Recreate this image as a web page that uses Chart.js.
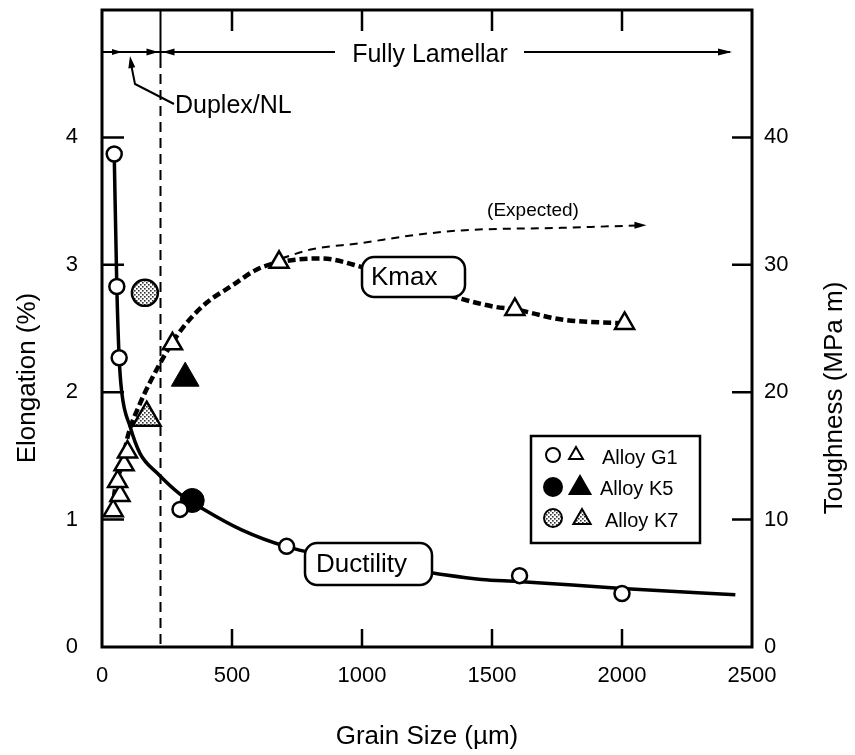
<!DOCTYPE html>
<html>
<head>
<meta charset="utf-8">
<script src="https://cdn.jsdelivr.net/npm/chart.js@4.4.1/dist/chart.umd.min.js"></script>
<style>
  html, body { margin: 0; padding: 0; background: #fff; }
  #wrap { width: 855px; height: 755px; }
</style>
</head>
<body>
<div id="wrap"><canvas id="c" width="855" height="755"></canvas></div>
<script>
const FONT = "'Liberation Sans', Arial, Helvetica, sans-serif";

// Tick labels
const xTickLabels = ['0', '500', '1000', '1500', '2000', '2500'];
const elongTickLabels = ['0', '1', '2', '3', '4'];
const toughTickLabels = ['0', '10', '20', '30', '40'];

// Ductility trend line (elongation, %)
const ductCurveX = [47, 57, 66, 76, 108, 146, 215, 300, 384, 537, 707, 1000, 1270, 1460, 1600, 2000, 2436];
const ductCurveY = [3.87, 2.83, 2.27, 2.0, 1.73, 1.52, 1.36, 1.20, 1.09, 0.92, 0.79, 0.66, 0.58, 0.53, 0.515, 0.46, 0.41];

// Kmax trend line (toughness, MPa m)
const kmaxCurveX = [42, 48, 75, 100, 146, 216, 271, 324, 401, 503, 592, 681, 842, 1003, 1369, 1511, 1588, 1768, 2010];
const kmaxCurveY = [10.8, 12.1, 14.2, 16.6, 19.1, 22.0, 23.9, 25.4, 27.0, 28.4, 29.6, 30.2, 30.5, 29.8, 27.4, 26.7, 26.5, 25.7, 25.4];

// Expected toughness trend
const expCurveX = [690, 803, 996, 1189, 1382, 1768, 2071];
const expCurveY = [30.5, 31.2, 31.7, 32.3, 32.7, 32.9, 33.1];

// Alloy G1
const g1CircGrain = [47, 57, 66, 300, 710, 1606, 2000];
const g1Elong = [3.87, 2.83, 2.27, 1.08, 0.79, 0.56, 0.42];
const g1TriGrain = [43, 69, 60, 85, 98, 271, 681, 1588, 2010];
const g1Tough = [10.7, 11.9, 13.0, 14.3, 15.3, 23.8, 30.2, 26.5, 25.4];

// Alloy K5
const k5CircGrain = [347];
const k5Elong = [1.15];
const k5TriGrain = [320];
const k5Tough = [21.1];

// Alloy K7
const k7CircGrain = [165];
const k7Elong = [2.78];
const k7TriGrain = [172];
const k7Tough = [18.0];

// Duplex / fully lamellar boundary (grain size, µm)
const duplexLimit = 225;

const pts = (xs, ys) => xs.map((v, i) => ({ x: v, y: ys[i] }));

const canvas = document.getElementById('c');
const ctx0 = canvas.getContext('2d');

// dotted grey fill used for alloy K7 symbols
function makeStipple(ctx) {
  const c = document.createElement('canvas');
  c.width = 4; c.height = 4;
  const g = c.getContext('2d');
  g.fillStyle = '#fff'; g.fillRect(0, 0, 4, 4);
  g.fillStyle = '#333';
  g.fillRect(0, 0, 1.6, 1.6);
  g.fillRect(2, 2, 1.6, 1.6);
  return ctx.createPattern(c, 'repeat');
}
const stipple = makeStipple(ctx0);

function circle(ctx, x, y, r) {
  ctx.beginPath(); ctx.arc(x, y, r, 0, Math.PI * 2); ctx.closePath();
}
function triangle(ctx, x, y, r) {
  ctx.beginPath();
  for (let k = 0; k < 3; k++) {
    const a = k * 2 * Math.PI / 3;
    const px = x + Math.sin(a) * r, py = y - Math.cos(a) * r;
    if (k === 0) ctx.moveTo(px, py); else ctx.lineTo(px, py);
  }
  ctx.closePath();
}
function roundBox(ctx, x0, y0, x1, y1, r) {
  ctx.beginPath();
  ctx.moveTo(x0 + r, y0);
  ctx.arcTo(x1, y0, x1, y1, r);
  ctx.arcTo(x1, y1, x0, y1, r);
  ctx.arcTo(x0, y1, x0, y0, r);
  ctx.arcTo(x0, y0, x1, y0, r);
  ctx.closePath();
}
function arrowHead(ctx, x, y, dir, len, half) {
  // dir: angle in radians the tip points to
  ctx.save();
  ctx.translate(x, y); ctx.rotate(dir);
  ctx.beginPath();
  ctx.moveTo(0, 0); ctx.lineTo(-len, -half); ctx.lineTo(-len, half);
  ctx.closePath(); ctx.fill();
  ctx.restore();
}

const deco = {
  id: 'deco',
  beforeDatasetsDraw(chart) {
    const { ctx, chartArea: a, scales: { x } } = chart;
    const bx = x.getPixelForValue(duplexLimit);
    ctx.save();
    ctx.strokeStyle = '#000';
    ctx.fillStyle = '#000';
    ctx.lineWidth = 2;
    ctx.beginPath(); ctx.moveTo(bx, a.top); ctx.lineTo(bx, 58); ctx.stroke();
    ctx.setLineDash([10, 6]);
    ctx.beginPath(); ctx.moveTo(bx, 58); ctx.lineTo(bx, a.bottom); ctx.stroke();
    ctx.setLineDash([]);

    // range arrows along the top
    const ay = 52;
    ctx.lineWidth = 2;
    ctx.beginPath(); ctx.moveTo(a.left, ay); ctx.lineTo(bx, ay); ctx.stroke();
    arrowHead(ctx, a.left + 20, ay, 0, 10, 3);
    arrowHead(ctx, bx - 2, ay, 0, 12, 3.5);
    ctx.beginPath(); ctx.moveTo(bx, ay); ctx.lineTo(335, ay); ctx.stroke();
    arrowHead(ctx, bx + 2, ay, Math.PI, 12, 3.5);
    ctx.beginPath(); ctx.moveTo(524, ay); ctx.lineTo(730, ay); ctx.stroke();
    arrowHead(ctx, 732, ay, 0, 14, 3.5);

    // leader from the Duplex/NL label
    ctx.lineWidth = 2;
    ctx.beginPath();
    ctx.moveTo(174, 104); ctx.lineTo(135, 84); ctx.lineTo(131, 64);
    ctx.stroke();
    arrowHead(ctx, 130, 56, -Math.PI / 2 - 0.15, 12, 3.5);
    ctx.restore();
  },
  afterDatasetsDraw(chart) {
    const { ctx, chartArea: a, scales: { x, y, y2 } } = chart;
    ctx.save();
    ctx.fillStyle = '#000';
    ctx.strokeStyle = '#000';

    // arrowhead at the end of the expected trend
    const ex = x.getPixelForValue(expCurveX[expCurveX.length - 1]);
    const ey = y2.getPixelForValue(expCurveY[expCurveY.length - 1]);
    arrowHead(ctx, ex + 6, ey, 0, 12, 3.5);

    // labelled boxes on the curves
    ctx.lineWidth = 2.5;
    ctx.fillStyle = '#fff';
    roundBox(ctx, 362, 257, 465, 297, 12); ctx.fill(); ctx.stroke();
    roundBox(ctx, 305, 543, 432, 585, 12); ctx.fill(); ctx.stroke();
    ctx.fillStyle = '#000';
    ctx.textBaseline = 'middle';
    ctx.textAlign = 'left';
    ctx.font = '26px ' + FONT;
    ctx.fillText('Kmax', 371, 278);
    ctx.fillText('Ductility', 316, 565);

    ctx.font = '19px ' + FONT;
    ctx.textAlign = 'center';
    ctx.fillText('(Expected)', 533, 211);

    ctx.font = '25px ' + FONT;
    ctx.fillText('Fully Lamellar', 430, 55);
    ctx.textAlign = 'left';
    ctx.fillText('Duplex/NL', 175, 106);

    // legend
    ctx.lineWidth = 2.5;
    ctx.strokeRect(531, 436, 169, 107);
    ctx.lineWidth = 2;
    ctx.fillStyle = '#fff';
    circle(ctx, 553, 455, 7); ctx.fill(); ctx.stroke();
    triangle(ctx, 576, 455, 8); ctx.fill(); ctx.stroke();
    ctx.fillStyle = '#000';
    circle(ctx, 553, 487, 9); ctx.fill(); ctx.stroke();
    triangle(ctx, 580, 488, 12); ctx.fill(); ctx.stroke();
    ctx.fillStyle = stipple;
    circle(ctx, 553, 518, 9); ctx.fill(); ctx.stroke();
    triangle(ctx, 582, 519, 10); ctx.fill(); ctx.stroke();
    ctx.fillStyle = '#000';
    ctx.font = '20px ' + FONT;
    ctx.textAlign = 'left';
    ctx.fillText('Alloy G1', 602, 458);
    ctx.fillText('Alloy K5', 600, 489);
    ctx.fillText('Alloy K7', 605, 521);

    // plot frame with inward ticks
    ctx.lineWidth = 3;
    ctx.strokeRect(a.left, a.top, a.width, a.height);
    ctx.lineWidth = 2.5;
    ctx.beginPath();
    for (let v = 1; v <= 4; v++) {
      const py = y.getPixelForValue(v);
      ctx.moveTo(a.left, py); ctx.lineTo(a.left + 22, py);
    }
    for (let v = 10; v <= 40; v += 10) {
      const py = y2.getPixelForValue(v);
      ctx.moveTo(a.right, py); ctx.lineTo(a.right - 20, py);
    }
    for (let v = 500; v <= 2000; v += 500) {
      const px = x.getPixelForValue(v);
      ctx.moveTo(px, a.bottom); ctx.lineTo(px, a.bottom - 18);
      ctx.moveTo(px, a.top); ctx.lineTo(px, a.top + 21);
    }
    ctx.stroke();

    // vertical axis titles
    ctx.font = '26px ' + FONT;
    ctx.textAlign = 'center';
    ctx.textBaseline = 'middle';
    ctx.save();
    ctx.translate(28, 378); ctx.rotate(-Math.PI / 2);
    ctx.fillText('Elongation (%)', 0, 0);
    ctx.restore();
    ctx.save();
    ctx.translate(835, 398); ctx.rotate(-Math.PI / 2);
    ctx.fillText('Toughness (MPa m)', 0, 0);
    ctx.restore();

    ctx.restore();
  }
};

Chart.defaults.font.family = FONT;
Chart.defaults.color = '#000';

const openStyle = { backgroundColor: '#fff', borderColor: '#000', borderWidth: 2.5 };

function fixV(width) {
  return s => { s.width = width; s.paddingTop = 0; s.paddingBottom = 0; };
}

new Chart(canvas, {
  type: 'scatter',
  data: {
    datasets: [
      { label: 'G1 elongation', data: pts(g1CircGrain, g1Elong), yAxisID: 'y', pointStyle: 'circle', pointRadius: 7.5, ...openStyle, order: 0 },
      { label: 'G1 toughness', data: pts(g1TriGrain, g1Tough), yAxisID: 'y2', pointStyle: 'triangle', pointRadius: 11, ...openStyle, order: 0 },
      { label: 'K5 elongation', data: pts(k5CircGrain, k5Elong), yAxisID: 'y', pointStyle: 'circle', pointRadius: 12, backgroundColor: '#000', borderColor: '#000', borderWidth: 1, order: 0 },
      { label: 'K5 toughness', data: pts(k5TriGrain, k5Tough), yAxisID: 'y2', pointStyle: 'triangle', pointRadius: 16, backgroundColor: '#000', borderColor: '#000', borderWidth: 1, order: 0 },
      { label: 'K7 elongation', data: pts(k7CircGrain, k7Elong), yAxisID: 'y', pointStyle: 'circle', pointRadius: 13, backgroundColor: stipple, borderColor: '#000', borderWidth: 2.5, order: 0 },
      { label: 'K7 toughness', data: pts(k7TriGrain, k7Tough), yAxisID: 'y2', pointStyle: 'triangle', pointRadius: 16, backgroundColor: stipple, borderColor: '#000', borderWidth: 2.5, order: 0 },
      { label: 'Ductility', type: 'line', data: pts(ductCurveX, ductCurveY), yAxisID: 'y', borderColor: '#000', borderWidth: 3.5, pointRadius: 0, cubicInterpolationMode: 'monotone', fill: false, order: 1 },
      { label: 'Kmax', type: 'line', data: pts(kmaxCurveX, kmaxCurveY), yAxisID: 'y2', borderColor: '#000', borderWidth: 4.5, borderDash: [8, 4], pointRadius: 0, cubicInterpolationMode: 'monotone', fill: false, order: 1 },
      { label: 'Expected', type: 'line', data: pts(expCurveX, expCurveY), yAxisID: 'y2', borderColor: '#000', borderWidth: 2, borderDash: [8, 6], pointRadius: 0, cubicInterpolationMode: 'monotone', fill: false, order: 1 }
    ]
  },
  options: {
    responsive: false,
    animation: false,
    events: [],
    layout: { autoPadding: false, padding: { top: 10, left: 0, right: 0, bottom: 0 } },
    plugins: { legend: { display: false }, tooltip: { enabled: false } },
    scales: {
      x: {
        type: 'linear', position: 'bottom', min: 0, max: 2500,
        afterFit(s) { s.height = 108; s.paddingLeft = 0; s.paddingRight = 0; },
        grid: { display: false, drawTicks: false },
        border: { display: false },
        ticks: {
          stepSize: 500, padding: 16, maxRotation: 0, autoSkip: false,
          font: { size: 22 },
          callback: (v, i) => xTickLabels[i] ?? ''
        },
        title: { display: true, text: 'Grain Size (µm)', font: { size: 26 }, padding: { top: 0, bottom: 3 } }
      },
      y: {
        type: 'linear', position: 'left', min: 0, max: 5,
        afterFit: fixV(102),
        grid: { display: false, drawTicks: false },
        border: { display: false },
        ticks: { stepSize: 1, padding: 24, font: { size: 22 }, callback: (v, i) => elongTickLabels[i] ?? '' }
      },
      y2: {
        type: 'linear', position: 'right', min: 0, max: 50,
        afterFit: fixV(103),
        grid: { display: false, drawTicks: false },
        border: { display: false },
        ticks: { stepSize: 10, padding: 12, font: { size: 22 }, callback: (v, i) => toughTickLabels[i] ?? '' }
      }
    }
  },
  plugins: [deco]
});
</script>
</body>
</html>
